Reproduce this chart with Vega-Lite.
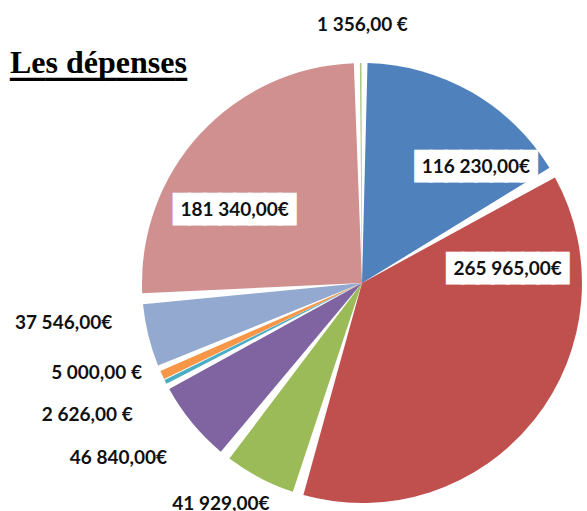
{
  "$schema": "https://vega.github.io/schema/vega-lite/v6.json",
  "width": 440,
  "height": 440,
  "autosize": {"type": "none"},
  "padding": {"left": 142, "top": 63, "right": 5, "bottom": 8},
  "background": "white",
  "title": {
    "text": "Les dépenses",
    "subtitle": "━━━━━━━━━━━━━━━",
    "anchor": "start",
    "frame": "group",
    "offset": 0,
    "dx": -132,
    "dy": 87,
    "font": "Liberation Serif",
    "fontSize": 32,
    "fontWeight": "bold",
    "color": "black",
    "subtitleFont": "DejaVu Sans Mono",
    "subtitleFontSize": 19.6,
    "subtitleColor": "black",
    "subtitlePadding": -9
  },
  "data": {
    "values": [
      {"idx": 1, "cat": "A", "value": 116230, "label": "116 230,00€"},
      {"idx": 2, "cat": "B", "value": 265965, "label": "265 965,00€"},
      {"idx": 3, "cat": "C", "value": 41929, "label": "41 929,00€"},
      {"idx": 4, "cat": "D", "value": 46840, "label": "46 840,00€"},
      {"idx": 5, "cat": "E", "value": 2626, "label": "2 626,00 €"},
      {"idx": 6, "cat": "F", "value": 5000, "label": "5 000,00 €"},
      {"idx": 7, "cat": "G", "value": 37546, "label": "37 546,00€"},
      {"idx": 8, "cat": "H", "value": 181340, "label": "181 340,00€"},
      {"idx": 9, "cat": "I", "value": 1356, "label": "1 356,00 €"}
    ]
  },
  "encoding": {
    "theta": {"field": "value", "type": "quantitative", "stack": true},
    "order": {"field": "idx", "type": "quantitative"}
  },
  "layer": [
    {
      "mark": {"type": "arc", "padAngle": 0.05},
      "encoding": {
        "color": {"field": "cat", "type": "nominal", "legend": null,
          "scale": {"domain": ["A","B","C","D","E","F","G","H","I"],
                    "range": ["#4F81BD","#C0504D","#9BBB59","#8064A2","#4BACC6","#F79646","#93A9CF","#D09090","#A9C47F"]}},
        "opacity": {"condition": {"test": "datum.value >= 10000", "value": 1}, "value": 0}
      }
    },
    {
      "mark": {"type": "arc", "padAngle": 0.005},
      "encoding": {
        "color": {"field": "cat", "type": "nominal", "legend": null},
        "opacity": {"condition": {"test": "datum.value < 10000", "value": 1}, "value": 0}
      }
    },
    {
      "mark": {"type": "text", "radius": 150, "dx": 39, "dy": 14, "align": "center", "baseline": "middle", "font": "DejaVu Sans Mono", "fontSize": 25, "fill": "white", "stroke": "white", "strokeWidth": 3, "strokeJoin": "miter"},
      "encoding": {"text": {"condition": {"test": "datum.cat === 'A'", "value": "████████"}, "value": ""}}
    },
    {
      "mark": {"type": "text", "radius": 150, "dx": 39, "dy": 14, "align": "center", "baseline": "middle", "font": "Lato", "fontSize": 19, "fontWeight": "bold", "fill": "#111111"},
      "encoding": {"text": {"condition": {"test": "datum.cat === 'A'", "field": "label", "type": "nominal"}, "value": ""}}
    },
    {
      "mark": {"type": "text", "radius": 150, "dx": 28, "dy": -107, "align": "center", "baseline": "middle", "font": "DejaVu Sans Mono", "fontSize": 25, "fill": "white", "stroke": "white", "strokeWidth": 3, "strokeJoin": "miter"},
      "encoding": {"text": {"condition": {"test": "datum.cat === 'B'", "value": "████████"}, "value": ""}}
    },
    {
      "mark": {"type": "text", "radius": 150, "dx": 28, "dy": -107, "align": "center", "baseline": "middle", "font": "Lato", "fontSize": 19, "fontWeight": "bold", "fill": "#111111"},
      "encoding": {"text": {"condition": {"test": "datum.cat === 'B'", "field": "label", "type": "nominal"}, "value": ""}}
    },
    {
      "mark": {"type": "text", "radius": 150, "dx": -17, "dy": 29, "align": "center", "baseline": "middle", "font": "DejaVu Sans Mono", "fontSize": 25, "fill": "white", "stroke": "white", "strokeWidth": 3, "strokeJoin": "miter"},
      "encoding": {"text": {"condition": {"test": "datum.cat === 'H'", "value": "████████"}, "value": ""}}
    },
    {
      "mark": {"type": "text", "radius": 150, "dx": -17, "dy": 29, "align": "center", "baseline": "middle", "font": "Lato", "fontSize": 19, "fontWeight": "bold", "fill": "#111111"},
      "encoding": {"text": {"condition": {"test": "datum.cat === 'H'", "field": "label", "type": "nominal"}, "value": ""}}
    },
    {
      "mark": {"type": "text", "radius": 258, "dx": 2, "dy": 0, "align": "center", "baseline": "middle", "font": "Lato", "fontSize": 19, "fontWeight": "bold", "fill": "#111111"},
      "encoding": {"text": {"condition": {"test": "datum.cat === 'I'", "field": "label", "type": "nominal"}, "value": ""}}
    },
    {
      "mark": {"type": "text", "radius": 250, "dx": -7, "dy": -20, "align": "right", "baseline": "middle", "font": "Lato", "fontSize": 19, "fontWeight": "bold", "fill": "#111111"},
      "encoding": {"text": {"condition": {"test": "datum.cat === 'G'", "field": "label", "type": "nominal"}, "value": ""}}
    },
    {
      "mark": {"type": "text", "radius": 250, "dx": 7, "dy": -15, "align": "right", "baseline": "middle", "font": "Lato", "fontSize": 19, "fontWeight": "bold", "fill": "#111111"},
      "encoding": {"text": {"condition": {"test": "datum.cat === 'F'", "field": "label", "type": "nominal"}, "value": ""}}
    },
    {
      "mark": {"type": "text", "radius": 250, "dx": -6, "dy": 20, "align": "right", "baseline": "middle", "font": "Lato", "fontSize": 19, "fontWeight": "bold", "fill": "#111111"},
      "encoding": {"text": {"condition": {"test": "datum.cat === 'E'", "field": "label", "type": "nominal"}, "value": ""}}
    },
    {
      "mark": {"type": "text", "radius": 250, "dx": -2, "dy": 16, "align": "right", "baseline": "middle", "font": "Lato", "fontSize": 19, "fontWeight": "bold", "fill": "#111111"},
      "encoding": {"text": {"condition": {"test": "datum.cat === 'D'", "field": "label", "type": "nominal"}, "value": ""}}
    },
    {
      "mark": {"type": "text", "radius": 250, "dx": -25, "dy": 0, "align": "center", "baseline": "middle", "font": "Lato", "fontSize": 19, "fontWeight": "bold", "fill": "#111111"},
      "encoding": {"text": {"condition": {"test": "datum.cat === 'C'", "field": "label", "type": "nominal"}, "value": ""}}
    }
  ],
  "config": {"view": {"stroke": null}}
}
